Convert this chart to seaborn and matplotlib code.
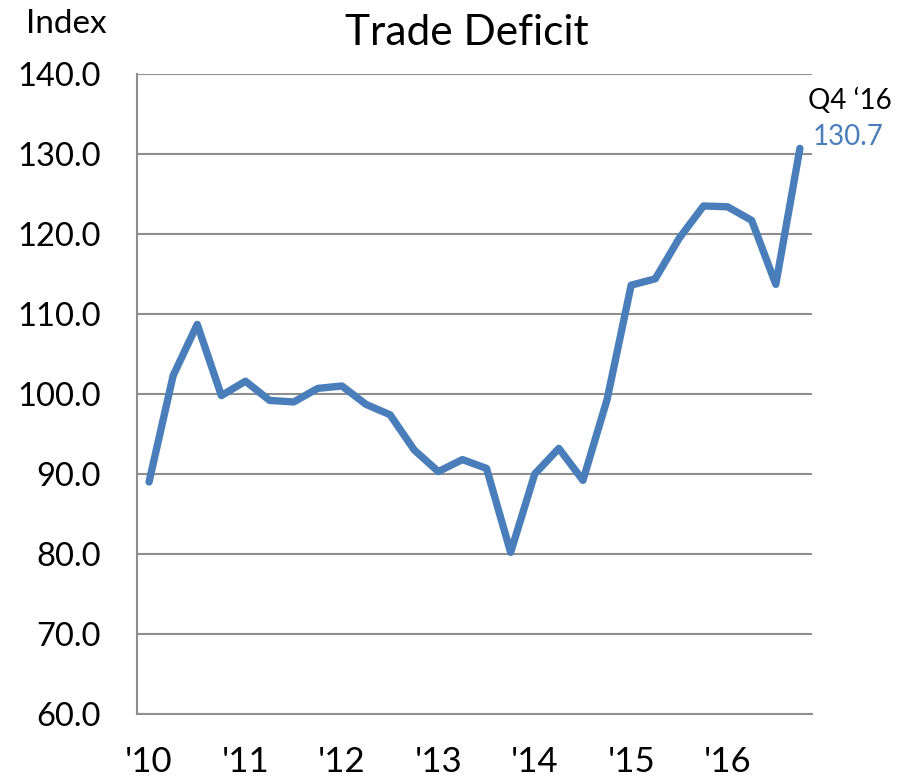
import matplotlib
matplotlib.use("Agg")
import matplotlib.pyplot as plt
import seaborn as sns
import pandas as pd

# quarterly index, Q1 2010 .. Q4 2016
quarters = [f"Q{q} '{y}" for y in range(10, 17) for q in range(1, 5)]
values = [89.0, 102.3, 108.7, 99.8,
          101.6, 99.2, 99.0, 100.7,
          101.0, 98.7, 97.4, 93.0,
          90.3, 91.8, 90.7, 80.2,
          90.0, 93.2, 89.2, 99.3,
          113.6, 114.4, 119.5, 123.5,
          123.4, 121.7, 113.7, 130.7]
year_labels = ["'10", "'11", "'12", "'13", "'14", "'15", "'16"]

df = pd.DataFrame({"quarter": quarters, "value": values})
df["pos"] = range(len(df))

sns.set_style("white")
plt.rcParams["font.family"] = ["Lato", "DejaVu Sans"]
plt.rcParams["text.color"] = "black"
plt.rcParams["xtick.labelcolor"] = "black"
plt.rcParams["ytick.labelcolor"] = "black"

grid_col = "#8e8e8e"
line_col = "#4a7ebb"

fig = plt.figure(figsize=(9.06, 7.78), dpi=100)
ax = fig.add_axes([0.1512, 0.0823, 0.745, 0.8226])

sns.lineplot(data=df, x="pos", y="value", color=line_col, linewidth=5.3,
             ax=ax, solid_capstyle="round", solid_joinstyle="round")

ax.set_xlim(-0.5, len(df) - 0.5)
ax.set_ylim(60, 140)
ax.set_yticks(range(60, 141, 10))
ax.set_yticklabels([f"{v:.1f}" for v in range(60, 141, 10)], fontsize=23.5)
ax.yaxis.grid(True, color=grid_col, linewidth=1.5)
ax.set_axisbelow(True)

# year boundaries as tick marks, labels under first quarter
ax.set_xticks([i - 0.5 for i in range(0, len(df) + 1, 4)])
ax.set_xticklabels([])
ax.set_xticks([i for i in range(0, len(df), 4)], minor=True)
ax.set_xticklabels(year_labels, minor=True, fontsize=25)
ax.tick_params(axis="x", which="minor", length=0, pad=23, labelcolor="black")
ax.tick_params(axis="x", which="major", length=9, width=1.5, color=grid_col, direction="out")
ax.tick_params(axis="y", length=9, width=1.5, color=grid_col, direction="out", pad=17,
               labelcolor="black")

for s in ["top", "right"]:
    ax.spines[s].set_visible(False)
for s in ["left", "bottom"]:
    ax.spines[s].set_color(grid_col)
    ax.spines[s].set_linewidth(1.5)

ax.set_xlabel("")
ax.set_ylabel("")

fig.text(0.515, 0.958, "Trade Deficit", ha="center", va="center", fontsize=30.5, color="black")
fig.text(0.073, 0.969, "Index", ha="center", va="center", fontsize=24, color="black")

last = len(df) - 1
ax.annotate(df["quarter"].iloc[last].replace("'", "\u2018"), xy=(last, values[last]),
            xytext=(6, 34), textcoords="offset points", fontsize=20, ha="left",
            va="center", color="black")
ax.annotate(f"{values[last]:.1f}", xy=(last, values[last]),
            xytext=(9, 8), textcoords="offset points", fontsize=20, ha="left",
            va="center", color=line_col)

fig.savefig("out.png", dpi=100)
